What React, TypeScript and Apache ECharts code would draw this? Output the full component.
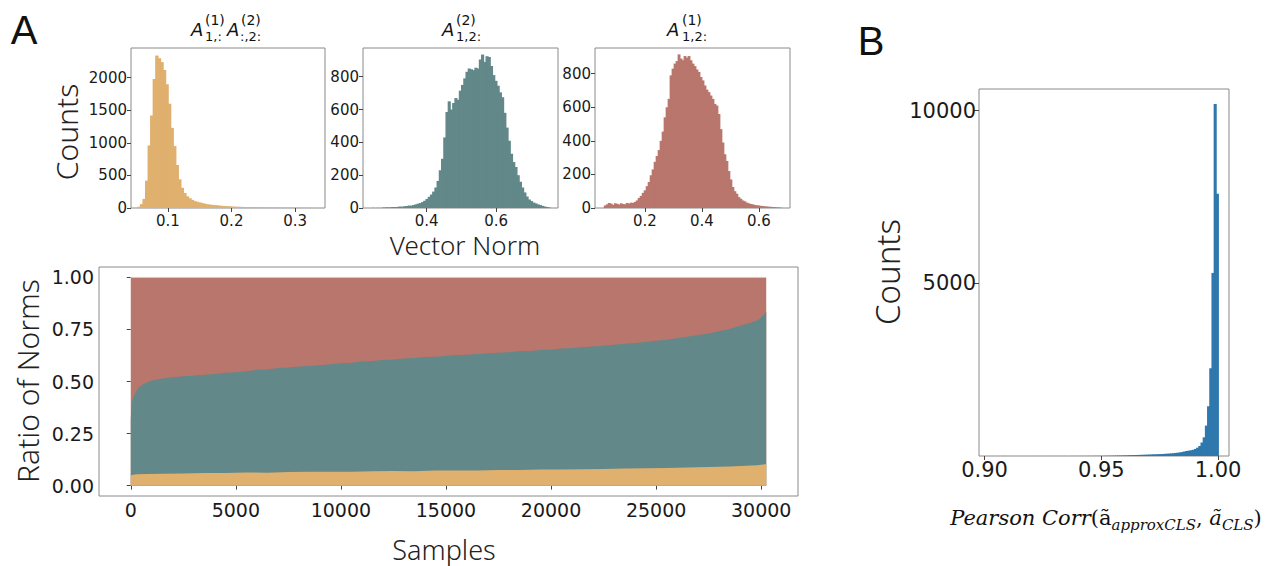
import React, { useEffect, useRef } from "react";
import * as echarts from "echarts";

// ---------- Data ----------
const YELLOW = "#E0B06E";
const TEAL = "#628889";
const RED = "#B8766C";
const BLUE = "#2E78AD";

// Histogram 1: A(1)_{1,:} A(2)_{:,2:}
const HIST1_START = 0.052;
const HIST1_WIDTH = 0.004;
const HIST1_COUNTS = [
  20, 60, 140, 420, 960, 1420, 1980, 2340, 2300, 2240,
  2120, 1900, 1600, 1230, 950, 660, 440, 310, 230, 180,
  150, 125, 105, 95, 85, 75, 65, 58, 52, 48,
  44, 40, 36, 32, 30, 28, 25, 22, 20, 19,
  18, 16, 14, 12, 14, 11, 10, 12, 9, 10,
  8, 9, 7, 8, 6, 7, 5, 6, 5, 6,
  4, 5, 4, 5, 3, 4, 3, 2,
];

// Histogram 2: A(2)_{1,2:}
const HIST2_START = 0.243;
const HIST2_WIDTH = 0.0064;
const HIST2_COUNTS = [
  1, 0, 1, 0, 2, 3, 4, 3, 5, 6,
  5, 7, 9, 8, 11, 12, 15, 14, 18, 22,
  26, 30, 36, 44, 55, 68, 82, 100, 125, 165,
  230, 300, 430, 585, 650, 600, 640, 670, 660, 715,
  750, 790, 830, 850, 845, 840, 855, 850, 905, 935,
  890, 925, 920, 865, 810, 775, 745, 705, 675, 580,
  490, 410, 330, 280, 250, 200, 160, 125, 95, 70,
  52, 42, 33, 28, 22, 18, 13, 9, 6, 3,
];

// Histogram 3: A(1)_{1,2:}
const HIST3_START = 0.0555;
const HIST3_WIDTH = 0.007;
const HIST3_COUNTS = [
  15, 22, 30, 26, 18, 28, 25, 20, 28, 24,
  22, 30, 26, 32, 30, 36, 45, 60, 72, 90,
  105, 130, 155, 195, 230, 275, 310, 345, 400, 455,
  540, 600, 650, 790, 830, 860, 875, 915, 890, 880,
  905, 895, 905, 880, 860, 845, 825, 810, 780, 760,
  730, 705, 690, 670, 650, 620, 610, 560, 470, 390,
  320, 280, 220, 170, 125, 100, 85, 65, 55, 45,
  40, 32, 28, 24, 22, 18, 16, 15, 13, 12,
  10, 9, 8, 7, 6, 5, 4, 3, 2,
];

// Panel B: Pearson correlation histogram
const B_START = 0.906;
const B_WIDTH = 0.00094;
const B_COUNTS = [
  0, 0, 1, 0, 0, 0, 1, 0, 0, 1,
  0, 0, 0, 1, 0, 0, 1, 0, 1, 0,
  0, 1, 0, 1, 0, 1, 1, 0, 1, 1,
  1, 0, 1, 2, 1, 1, 2, 1, 2, 2,
  2, 3, 2, 3, 4, 3, 5, 4, 6, 6,
  7, 8, 9, 10, 12, 13, 15, 17, 19, 22,
  25, 27, 29, 31, 33, 35, 38, 40, 42, 45,
  48, 50, 52, 55, 58, 62, 66, 70, 75, 80,
  88, 95, 105, 115, 130, 145, 155, 165, 180, 205,
  240, 290, 390, 540, 880, 1440, 2540, 5300, 10190, 7590,
];

// Bottom panel: ratio of norms (sorted samples)
const TEAL_X = [
  0, 20, 50, 90, 150, 240, 350, 550, 750, 1030,
  1300, 1500, 2000, 2500, 3080, 3500, 4000, 4500, 5030, 5500,
  6000, 6500, 7040, 7500, 8000, 8500, 9250, 10000, 10500, 11000,
  11500, 12000, 12500, 13000, 13500, 14000, 14500, 15000, 15500, 16000,
  16500, 17000, 17500, 18000, 18500, 19000, 19500, 20000, 20500, 21000,
  21800, 22500, 23000, 23500, 24000, 24500, 25000, 25500, 26000, 26560,
  27000, 27500, 28000, 28500, 28940, 29300, 29730, 29900, 30040, 30150,
  30240,
];
const TEAL_TOP = [
  0.318, 0.36, 0.395, 0.415, 0.43, 0.45, 0.466, 0.484, 0.495, 0.505,
  0.511, 0.515, 0.52, 0.525, 0.529, 0.533, 0.536, 0.542, 0.545, 0.549,
  0.556, 0.558, 0.565, 0.567, 0.572, 0.574, 0.58, 0.588, 0.59, 0.596,
  0.598, 0.603, 0.606, 0.611, 0.613, 0.618, 0.619, 0.622, 0.627, 0.629,
  0.632, 0.636, 0.638, 0.641, 0.645, 0.647, 0.651, 0.654, 0.658, 0.661,
  0.667, 0.672, 0.676, 0.681, 0.685, 0.69, 0.696, 0.701, 0.708, 0.716,
  0.723, 0.731, 0.741, 0.752, 0.766, 0.776, 0.79, 0.8, 0.812, 0.823,
  0.836,
];
const YELLOW_X = [
  0, 100, 300, 800, 1500, 2500, 3500, 4500, 5500, 6500,
  7500, 8500, 9500, 10500, 11500, 12500, 13500, 14500, 15500, 16500,
  17500, 18500, 19500, 20500, 21500, 22500, 23500, 24500, 25500, 26500,
  27500, 28500, 29300, 29800, 30100, 30240,
];
const YELLOW_TOP = [
  0.048, 0.052, 0.054, 0.056, 0.057, 0.058, 0.06, 0.061, 0.063, 0.062,
  0.065, 0.066, 0.067, 0.066, 0.069, 0.07, 0.069, 0.072, 0.073, 0.072,
  0.075, 0.075, 0.077, 0.077, 0.079, 0.08, 0.082, 0.083, 0.085, 0.087,
  0.089, 0.092, 0.095, 0.098, 0.101, 0.104,
];
const SAMPLE_END = 30240;

// Tick values
const H1_XTICKS = [0.1, 0.2, 0.3];
const H1_YTICKS = [0, 500, 1000, 1500, 2000];
const H2_XTICKS = [0.4, 0.6];
const H2_YTICKS = [0, 200, 400, 600, 800];
const H3_XTICKS = [0.2, 0.4, 0.6];
const H3_YTICKS = [0, 200, 400, 600, 800];
const R_XTICKS = [0, 5000, 10000, 15000, 20000, 25000, 30000];
const R_YTICKS = [0, 0.25, 0.5, 0.75, 1.0];
const B_XTICKS = [0.9, 0.95, 1.0];
const B_YTICKS = [5000, 10000];

// ---------- Helpers ----------
const toBins = (start: number, w: number, counts: number[]) =>
  counts.map((c, i) => [start + i * w, start + (i + 1) * w, c]);

const histSeries = (idx: number, data: number[][], color: string) => ({
  type: "custom",
  xAxisIndex: idx,
  yAxisIndex: idx,
  silent: true,
  encode: { x: [0, 1], y: 2 },
  data,
  renderItem: (params: any, api: any) => {
    const x0 = api.value(0);
    const x1 = api.value(1);
    const c = api.value(2);
    if (!c) return null;
    const a = api.coord([x0, c]);
    const b = api.coord([x1, 0]);
    return {
      type: "rect",
      shape: { x: a[0], y: a[1], width: b[0] - a[0] + 0.9, height: b[1] - a[1] },
      style: { fill: color },
    };
  },
});

const valueAxis = (
  gridIndex: number,
  min: number,
  max: number,
  ticks: number[],
  fmt: (v: number) => string,
  fontSize: number,
  margin: number,
  tickLen: number
) => ({
  type: "value",
  gridIndex,
  min,
  max,
  axisLine: { show: false },
  splitLine: { show: false },
  axisTick: {
    show: true,
    customValues: ticks,
    length: tickLen,
    lineStyle: { color: "#444", width: 1 },
  },
  axisLabel: {
    customValues: ticks,
    formatter: fmt,
    fontSize,
    color: "#1a1a1a",
    fontFamily: "DejaVu Sans",
    margin,
    showMinLabel: true,
    showMaxLabel: true,
  },
});

const grid = (left: number, top: number, width: number, height: number) => ({
  left,
  top,
  width,
  height,
  show: true,
  borderColor: "#8a8a8a",
  borderWidth: 1,
  backgroundColor: "transparent",
  containLabel: false,
  outerBoundsMode: "none",
});

const f1 = (v: number) => v.toFixed(1);
const f2 = (v: number) => v.toFixed(2);
const fi = (v: number) => String(Math.round(v));

const mathTitle = (
  parts: { t: string; x: number; y: number; italic?: boolean; size: number }[]
) =>
  parts.map((p) => ({
    type: "text",
    x: p.x,
    y: p.y,
    silent: true,
    style: {
      text: p.t,
      fill: "#111",
      font: `${p.italic ? "italic " : ""}${p.size}px "DejaVu Sans"`,
      align: "left",
      verticalAlign: "middle",
    },
  }));

const bigText = (t: string, x: number, y: number, size: number, rot = 0, family = '"Noto Sans"') => ({
  type: "text",
  x,
  y,
  rotation: rot,
  silent: true,
  style: {
    text: t,
    fill: "#222",
    font: `300 ${size}px ${family}`,
    align: "center",
    verticalAlign: "middle",
  },
});

export default function App() {
  const ref = useRef<HTMLDivElement>(null);
  useEffect(() => {
    if (!ref.current) return;
    const chart = echarts.init(ref.current, null, { renderer: "svg" });
    const tealData = TEAL_X.map((x, i) => [x, TEAL_TOP[i]]);
    const yellowData = YELLOW_X.map((x, i) => [x, YELLOW_TOP[i]]);
    const option: any = {
      animation: false,
      backgroundColor: "#fff",
      grid: [
        grid(131, 48, 194, 160),
        grid(363, 48, 195, 160),
        grid(595, 48, 195, 160),
        grid(99, 267, 699, 229),
        grid(979, 89, 250, 367),
      ],
      xAxis: [
        valueAxis(0, 0.042, 0.347, H1_XTICKS, f1, 15, 5, 4),
        valueAxis(1, 0.217, 0.778, H2_XTICKS, f1, 15, 5, 4),
        valueAxis(2, 0.0246, 0.709, H3_XTICKS, f1, 15, 5, 4),
        valueAxis(3, -1512, 31752, R_XTICKS, fi, 19, 4, 4),
        valueAxis(4, 0.8976, 1.0047, B_XTICKS, f2, 21, 3, 4),
      ],
      yAxis: [
        valueAxis(0, 0, 2456, H1_YTICKS, fi, 15, 4, 4),
        valueAxis(1, 0, 975, H2_YTICKS, fi, 15, 4, 4),
        valueAxis(2, 0, 953, H3_YTICKS, fi, 15, 4, 4),
        valueAxis(3, -0.05, 1.05, R_YTICKS, f2, 19, 5, 4),
        valueAxis(4, 0, 10625, B_YTICKS, fi, 21, 3, 5),
      ],
      series: [
        histSeries(0, toBins(HIST1_START, HIST1_WIDTH, HIST1_COUNTS), YELLOW),
        histSeries(1, toBins(HIST2_START, HIST2_WIDTH, HIST2_COUNTS), TEAL),
        histSeries(2, toBins(HIST3_START, HIST3_WIDTH, HIST3_COUNTS), RED),
        {
          type: "line",
          xAxisIndex: 3,
          yAxisIndex: 3,
          silent: true,
          symbol: "none",
          data: [
            [0, 1],
            [SAMPLE_END, 1],
          ],
          lineStyle: { width: 1, color: "#e3c3be" },
          areaStyle: { color: RED, opacity: 1 },
        },
        {
          type: "line",
          xAxisIndex: 3,
          yAxisIndex: 3,
          silent: true,
          symbol: "none",
          data: tealData,
          lineStyle: { width: 0 },
          areaStyle: { color: TEAL, opacity: 1 },
        },
        {
          type: "line",
          xAxisIndex: 3,
          yAxisIndex: 3,
          silent: true,
          symbol: "none",
          data: yellowData,
          lineStyle: { width: 0 },
          areaStyle: { color: YELLOW, opacity: 1 },
        },
        histSeries(4, toBins(B_START, B_WIDTH, B_COUNTS), BLUE),
      ],
      graphic: [
        {
          type: "text",
          x: 24,
          y: 30,
          silent: true,
          style: { text: "A", font: '40px "Liberation Sans"', fill: "#111", align: "center", verticalAlign: "middle" },
        },
        {
          type: "text",
          x: 871,
          y: 41,
          silent: true,
          style: { text: "B", font: '40px "Liberation Sans"', fill: "#111", align: "center", verticalAlign: "middle" },
        },
        ...mathTitle([
          { t: "A", x: 191, y: 29, italic: true, size: 18 },
          { t: "(1)", x: 205, y: 20, size: 14 },
          { t: "1,:", x: 205, y: 36, size: 13 },
          { t: "A", x: 227, y: 29, italic: true, size: 18 },
          { t: "(2)", x: 241, y: 20, size: 14 },
          { t: ":,2:", x: 240, y: 36, size: 13 },
        ]),
        ...mathTitle([
          { t: "A", x: 442, y: 29, italic: true, size: 18 },
          { t: "(2)", x: 456, y: 20, size: 14 },
          { t: "1,2:", x: 456, y: 36, size: 13 },
        ]),
        ...mathTitle([
          { t: "A", x: 667, y: 29, italic: true, size: 18 },
          { t: "(1)", x: 682, y: 20, size: 14 },
          { t: "1,2:", x: 682, y: 36, size: 13 },
        ]),
        bigText("Counts", 66, 132, 30, Math.PI / 2),
        bigText("Vector Norm", 465, 245, 26),
        bigText("Ratio of Norms", 27, 381, 30, Math.PI / 2),
        bigText("Samples", 444, 549, 27),
        bigText("Counts", 887, 272, 33, Math.PI / 2),
        {
          type: "text",
          x: 1106,
          y: 518,
          silent: true,
          style: {
            text: "{i|Pearson Corr}{r|(ã}{s|approxCLS}{r|, }{i|ã}{s|CLS}{r|)}",
            align: "center",
            verticalAlign: "middle",
            fill: "#111",
            rich: {
              i: { fontFamily: "DejaVu Serif", fontStyle: "italic", fontSize: 21, lineHeight: 28, verticalAlign: "middle", fill: "#111" },
              r: { fontFamily: "DejaVu Serif", fontSize: 21, lineHeight: 28, verticalAlign: "middle", fill: "#111" },
              s: { fontFamily: "DejaVu Serif", fontStyle: "italic", fontSize: 15, lineHeight: 28, verticalAlign: "bottom", fill: "#111" },
            },
          },
        },
      ],
    };
    chart.setOption(option);
    return () => chart.dispose();
  }, []);
  return (
    <div
      ref={ref}
      style={{ position: "absolute", left: 0, top: 0, width: 1276, height: 566, background: "#fff" }}
    />
  );
}
